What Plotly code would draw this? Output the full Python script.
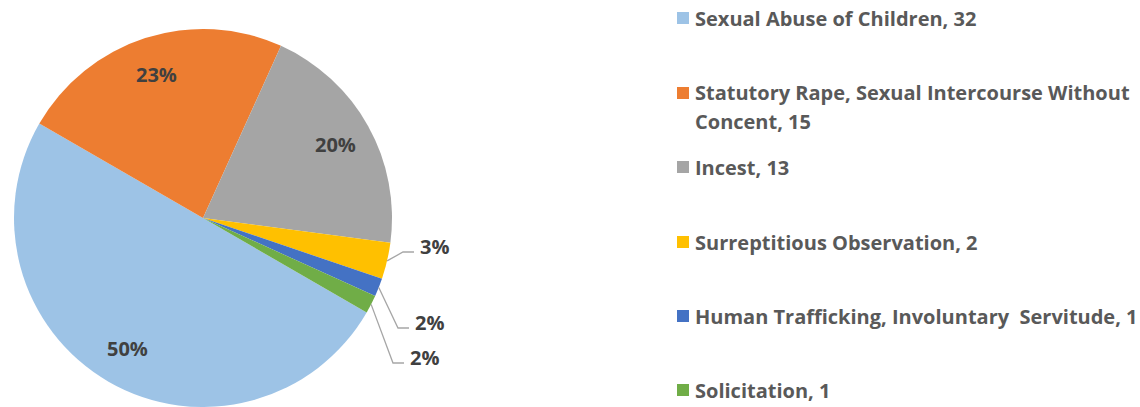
import math
import plotly.graph_objects as go

categories = ["Sexual Abuse of Children",
              "Statutory Rape, Sexual Intercourse Without Concent",
              "Incest",
              "Surreptitious Observation",
              "Human Trafficking, Involuntary  Servitude",
              "Solicitation"]
values = [32, 15, 13, 2, 1, 1]
colors = ["#9DC3E6", "#ED7D31", "#A5A5A5", "#FFC000", "#4472C4", "#70AD47"]
legend_lines = [["Sexual Abuse of Children, 32"],
                ["Statutory Rape, Sexual Intercourse Without", "Concent, 15"],
                ["Incest, 13"],
                ["Surreptitious Observation, 2"],
                ["Human Trafficking, Involuntary&nbsp; Servitude, 1"],
                ["Solicitation, 1"]]

W, H = 1140, 407
FONT = "'Open Sans', Lato, sans-serif"
ROT = 120
CX, CY, R = 203, 218, 189  # pie centre / radius in pixels

fig = go.Figure(go.Pie(
    labels=categories, values=values, sort=False, direction="clockwise",
    rotation=ROT,
    marker=dict(colors=colors, line=dict(color="white", width=0)),
    textinfo="none",
    domain=dict(x=[(CX - R) / W, (CX + R) / W], y=[(H - CY - R) / H, (H - CY + R) / H]),
    showlegend=False,
    hoverinfo="label+value+percent",
))

def px(x, y):
    return x / W, 1 - y / H

total = sum(values)
start = ROT
outside_pos = {3: (420, 246), 4: (415, 322), 5: (410, 357)}  # label left edge / centre y
for i, v in enumerate(values):
    span = 360 * v / total
    mid = math.radians(start + span / 2)
    start += span
    pct = "<b>%d%%</b>" % round(100 * v / total)
    if i < 3:
        lx = CX + 0.80 * R * math.sin(mid)
        ly = CY - 0.80 * R * math.cos(mid)
        x, y = px(lx, ly)
        fig.add_annotation(x=x, y=y, xref="paper", yref="paper", text=pct,
                           showarrow=False, xanchor="center", yanchor="middle",
                           font=dict(family=FONT, size=20, color="#404040"))
    else:
        ex = CX + R * math.sin(mid)
        ey = CY - R * math.cos(mid)
        tx, ty = outside_pos[i]
        elx = tx - 6
        ely = ty + 6
        kx = elx - 11
        x0, y0 = px(ex, ey)
        x1, y1 = px(kx, ely)
        x2, y2 = px(elx, ely)
        fig.add_shape(type="path", xref="paper", yref="paper",
                      path=f"M {x0} {y0} L {x1} {y1} L {x2} {y2}",
                      line=dict(color="#A6A6A6", width=1.3))
        x, y = px(tx - 2, ty)
        fig.add_annotation(x=x, y=y, xref="paper", yref="paper", text=pct,
                           showarrow=False, xanchor="left", yanchor="middle",
                           font=dict(family=FONT, size=20, color="#404040"))

# legend drawn as squares + text
sq_y = [18, 93, 167, 242, 316, 390]
for lines, c, y in zip(legend_lines, colors, sq_y):
    x0, y0 = px(677, y - 6)
    x1, y1 = px(689, y + 6)
    fig.add_shape(type="rect", xref="paper", yref="paper",
                  x0=x0, x1=x1, y0=y0, y1=y1, fillcolor=c, line=dict(width=0))
    for k, t in enumerate(lines):
        x, yy = px(693, y + 29 * k)
        fig.add_annotation(x=x, y=yy, xref="paper", yref="paper",
                           text="<b>" + t + "</b>", showarrow=False,
                           xanchor="left", yanchor="middle", align="left",
                           font=dict(family=FONT, size=20, color="#595959"))

fig.update_layout(width=W, height=H, margin=dict(l=0, r=0, t=0, b=0),
                  paper_bgcolor="white", plot_bgcolor="white")
fig.write_html("out.html", config={"displayModeBar": False},
               post_script="document.body.style.margin='0';")
